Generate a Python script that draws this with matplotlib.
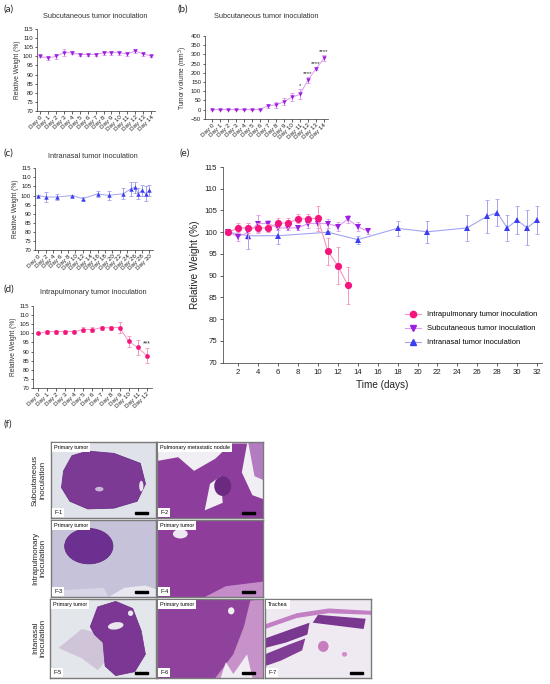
import matplotlib
matplotlib.use('Agg')
import matplotlib.pyplot as plt
from matplotlib.patches import Ellipse, Polygon, Rectangle
from matplotlib.lines import Line2D

plt.rcParams['font.family'] = ['Liberation Sans', 'DejaVu Sans']

# ---------------- data ----------------
sub_days = list(range(15))
sub_labels = ['Day %d' % d for d in sub_days]
sub_weight = [100, 99, 100, 102, 102, 101, 101, 101, 102, 102, 102, 101.3, 103, 101.3, 100.2]
sub_err = [0.5, 1.0, 1.5, 2.0, 0.9, 0.6, 0.6, 0.6, 1.0, 1.0, 1.0, 1.1, 0.9, 1.0, 0.5]

tumor_vol = [0, 0, 0, 0, 0, 0, 0, 20, 25, 42, 68, 82, 160, 222, 278]
tumor_err = [2, 2, 2, 2, 2, 2, 2, 12, 17, 20, 22, 27, 15, 8, 16]
tumor_stars = ['', '', '', '', '', '', '', '', '', '', '', '*', '****', '****', '****']
tumor_star_y = [0, 0, 0, 0, 0, 0, 0, 0, 0, 0, 0, 128, 197, 252, 318]

in_days_c = [0, 2, 5, 9, 12, 16, 19, 23, 25, 26, 27, 28, 29, 30]
in_days_e = [1, 3, 6, 11, 14, 18, 21, 25, 27, 28, 29, 30, 31, 32]
in_tick_days = list(range(0, 31, 2))
in_labels = ['Day %d' % d for d in in_tick_days]
in_weight = [100, 99.2, 99.2, 100, 98.3, 100.9, 100.1, 101, 103.7, 104.5, 101, 102.8, 101, 102.8]
in_err = [0.3, 3.0, 1.8, 0.3, 0.9, 1.7, 2.5, 3.0, 3.8, 3.1, 3.0, 3.2, 4.0, 3.2]

ip_days = list(range(13))
ip_labels = ['Day %d' % d for d in ip_days]
ip_weight = [100, 101, 101, 101, 101, 102.1, 102.1, 103.1, 103.1, 103.2, 95.6, 92.3, 87.8]
ip_err = [0.3, 1.1, 1.1, 1.1, 1.0, 1.2, 1.2, 1.0, 1.0, 2.9, 3.1, 4.2, 4.2]

e_sub_days = [d + 1 for d in sub_days]
e_ip_days = [d + 1 for d in ip_days]

weight_ticks = list(range(70, 116, 5))
vol_ticks = list(range(-50, 401, 50))
e_xticks = list(range(2, 33, 2))

# ---------------- colours ----------------
SUB_M, SUB_L = '#9b1fe0', '#dd9af0'
IP_M, IP_L = '#f5157e', '#f795c0'
IN_M, IN_L = '#3c3cf0', '#a3a3f2'

W, H = 550, 684
fig = plt.figure(figsize=(5.5, 6.84), dpi=100)
fig.patch.set_facecolor('white')


def ax_px(x0, y0, x1, y1):
    return fig.add_axes([x0 / W, 1 - y1 / H, (x1 - x0) / W, (y1 - y0) / H])


def style(ax, fs=4.3):
    for s in ['top', 'right']:
        ax.spines[s].set_visible(False)
    for s in ['left', 'bottom']:
        ax.spines[s].set_linewidth(0.5)
        ax.spines[s].set_color('#333333')
    ax.tick_params(length=1.8, width=0.5, labelsize=fs, pad=1, colors='#222222')


def series(ax, x, y, e, mc, lc, marker, ms, lw=0.7, z=3):
    ax.errorbar(x, y, yerr=e, fmt='none', ecolor=lc, elinewidth=0.7,
                capsize=1.4, capthick=0.6, zorder=z)
    ax.plot(x, y, '-', color=lc, lw=lw, zorder=z + 0.1)
    ax.plot(x, y, linestyle='none', marker=marker, color=mc, ms=ms,
            markeredgewidth=0, zorder=z + 0.2)


def panel_label(x, y, s, fs=7.0):
    fig.text(x / W, 1 - y / H, s, fontsize=fs, ha='left', va='center',
             family=['Lato', 'DejaVu Sans'], color='#222222')


def small_title(xc, y, s):
    fig.text(xc / W, 1 - y / H, s, fontsize=5.3, ha='center', va='center', color='#333333')


def cat_xaxis(ax, ticks, labels):
    ax.set_xticks(ticks)
    ax.set_xticklabels(labels, rotation=45, ha='right', rotation_mode='anchor', fontsize=4.5)


# ---------------- (a) ----------------
panel_label(4, 9, '(a)')
small_title(95, 16, 'Subcutaneous tumor inoculation')
axa = ax_px(37, 29, 155, 111)
style(axa)
series(axa, sub_days, sub_weight, sub_err, SUB_M, SUB_L, 'v', 3.2)
axa.set_xlim(-0.4, 14.5)
axa.set_ylim(70, 115)
axa.set_yticks(weight_ticks)
cat_xaxis(axa, sub_days, sub_labels)
axa.set_ylabel('Relative Weight (%)', fontsize=4.8, labelpad=1.5, color='#333333')

# ---------------- (b) ----------------
panel_label(178, 9, '(b)')
small_title(266, 16, 'Subcutaneous tumor inoculation')
axb = ax_px(205, 36, 328, 118.7)
style(axb)
series(axb, sub_days, tumor_vol, tumor_err, SUB_M, SUB_L, 'v', 3.2)
for d, s, yy in zip(sub_days, tumor_stars, tumor_star_y):
    if s:
        axb.text(d, yy, s, fontsize=4.4, ha='center', va='center', color='#222222')
axb.set_xlim(-0.84, 14.5)
axb.set_ylim(-50, 400)
axb.set_yticks(vol_ticks)
cat_xaxis(axb, sub_days, sub_labels)
axb.set_ylabel('Tumor volume (mm$^3$)', fontsize=4.8, labelpad=1.0, color='#333333')

# ---------------- (c) ----------------
panel_label(4, 153, '(c)')
small_title(93, 156, 'Intranasal tumor inoculation')
axc = ax_px(35, 168.3, 153, 250)
style(axc)
series(axc, in_days_c, in_weight, in_err, IN_M, IN_L, '^', 3.2)
axc.set_xlim(-0.9, 31)
axc.set_ylim(70, 115)
axc.set_yticks(weight_ticks)
cat_xaxis(axc, in_tick_days, in_labels)
axc.set_ylabel('Relative Weight (%)', fontsize=4.8, labelpad=1.5, color='#333333')

# ---------------- (d) ----------------
panel_label(4, 289, '(d)')
small_title(93, 293, 'Intrapulmonary tumor inoculation')
axd = ax_px(33.3, 306, 151.7, 388)
style(axd)
series(axd, ip_days, ip_weight, ip_err, IP_M, IP_L, 'o', 3.4)
axd.text(12, 94.2, '***', fontsize=4.8, ha='center', va='center', color='#222222')
axd.set_xlim(-0.55, 12.55)
axd.set_ylim(70, 115)
axd.set_yticks(weight_ticks)
cat_xaxis(axd, ip_days, ip_labels)
axd.set_ylabel('Relative Weight (%)', fontsize=4.8, labelpad=1.5, color='#333333')

# ---------------- (e) ----------------
panel_label(180, 153, '(e)')
axe = ax_px(223.3, 167, 542, 362.7)
style(axe, fs=5.6)
axe.tick_params(length=2.5, pad=2)
series(axe, in_days_e, in_weight, in_err, IN_M, IN_L, '^', 4.2, lw=0.8, z=3)
series(axe, e_sub_days, sub_weight, sub_err, SUB_M, SUB_L, 'v', 4.2, lw=0.8, z=4)
series(axe, e_ip_days, ip_weight, ip_err, IP_M, IP_L, 'o', 5.2, lw=0.8, z=5)
axe.set_xlim(0.5, 32.5)
axe.set_ylim(70, 115)
axe.set_yticks(weight_ticks)
axe.set_xticks(e_xticks)
axe.set_xlabel('Time (days)', fontsize=7.2, labelpad=3, color='#222222')
axe.set_ylabel('Relative Weight (%)', fontsize=7.2, labelpad=3, color='#222222')
handles = [
    Line2D([], [], color=IP_L, lw=0.8, marker='o', mfc=IP_M, mec=IP_M, ms=4.5),
    Line2D([], [], color=SUB_L, lw=0.8, marker='v', mfc=SUB_M, mec=SUB_M, ms=4.0),
    Line2D([], [], color=IN_L, lw=0.8, marker='^', mfc=IN_M, mec=IN_M, ms=4.0),
]
axe.legend(handles, ['Intrapulmonary tumor inoculation', 'Subcutaneous tumor inoculation',
                     'Intranasal tumor inoculation'],
           loc='lower right', bbox_to_anchor=(1.0, 0.06), frameon=False, fontsize=5.4,
           handlelength=2.2, labelspacing=0.9, handletextpad=0.8, borderaxespad=0.2)

# ---------------- (f) histology ----------------
panel_label(4, 424, '(f)')

for text, yc in [('Subcutaneous\ninoculation', 480), ('Intrapulmonary\ninoculation', 558),
                 ('Intanasal\ninoculation', 638)]:
    fig.text(39 / W, 1 - yc / H, text, rotation=90, fontsize=5.8, ha='center', va='center',
             linespacing=1.1, color='#222222')


def tile(x0, y0, x1, y1, bg, title, tag):
    ax = ax_px(x0, y0, x1, y1)
    ax.set_xlim(0, 1)
    ax.set_ylim(0, 1)
    ax.set_xticks([])
    ax.set_yticks([])
    ax.set_facecolor(bg)
    for s in ax.spines.values():
        s.set_color('#7a7a7a')
        s.set_linewidth(1.0)
    ax._tile_title = title
    ax._tile_tag = tag
    return ax


def finish(ax):
    ax.text(0.03, 0.965, ax._tile_title, fontsize=3.9, ha='left', va='top', zorder=20,
            bbox=dict(boxstyle='square,pad=0.35', fc='white', ec='none'))
    ax.text(0.03, 0.04, ax._tile_tag, fontsize=3.9, ha='left', va='bottom', zorder=20,
            bbox=dict(boxstyle='square,pad=0.35', fc='white', ec='none'))
    ax.add_patch(Rectangle((0.8, 0.055), 0.12, 0.018, color='black', zorder=21))


# F-1
a = tile(51, 442, 156, 518, '#dfe2e9', 'Primary tumor', 'F-1')
a.add_patch(Polygon([[0.12, 0.62], [0.2, 0.82], [0.35, 0.88], [0.6, 0.85], [0.85, 0.72],
                     [0.9, 0.45], [0.82, 0.22], [0.6, 0.13], [0.35, 0.12], [0.18, 0.22],
                     [0.1, 0.4]], closed=True, fc='#7c3a95', ec='#6a2e85', lw=0.6))
a.add_patch(Ellipse((0.46, 0.38), 0.08, 0.06, fc='#c9b7d6', ec='none'))
a.add_patch(Ellipse((0.86, 0.42), 0.04, 0.14, fc='#e8e4ee', ec='none'))
finish(a)

# F-2
a = tile(157, 442, 263, 518, '#f1eff4', 'Pulmonary metastatic nodule', 'F-2')
a.add_patch(Polygon([[0.0, 0.0], [0.0, 0.75], [0.2, 0.8], [0.35, 0.62], [0.55, 0.78],
                     [0.7, 0.98], [0.85, 0.98], [0.8, 0.6], [0.9, 0.3], [1.0, 0.25],
                     [1.0, 0.0]], closed=True, fc='#8d3d9c', ec='none'))
a.add_patch(Polygon([[0.45, 0.1], [0.5, 0.45], [0.6, 0.55], [0.62, 0.2]], closed=True,
                    fc='#f1eff4', ec='none'))
a.add_patch(Ellipse((0.62, 0.42), 0.16, 0.26, fc='#6b2a80', ec='none'))
a.add_patch(Polygon([[0.86, 1.0], [0.92, 0.55], [1.0, 0.5], [1.0, 1.0]], closed=True,
                    fc='#b37bc0', ec='none'))
finish(a)

# F-3
a = tile(51, 520, 156, 597, '#c6c2da', 'Primary tumor', 'F-3')
a.add_patch(Polygon([[0.55, 0.0], [0.7, 0.12], [0.9, 0.15], [1.0, 0.1], [1.0, 0.0]],
                    closed=True, fc='#e9e7ef', ec='none'))
a.add_patch(Ellipse((0.36, 0.66), 0.46, 0.46, fc='#6c3090', ec='#5a2478', lw=0.5))
a.add_patch(Polygon([[0.0, 0.0], [0.0, 0.08], [0.5, 0.12], [0.55, 0.0]], closed=True,
                    fc='#d9d5e6', ec='none'))
finish(a)

# F-4
a = tile(157, 520, 263, 597, '#8e3e9a', 'Primary tumor', 'F-4')
a.add_patch(Ellipse((0.22, 0.82), 0.14, 0.12, fc='#eee8f2', ec='none'))
a.add_patch(Polygon([[0.45, 0.0], [0.65, 0.14], [1.0, 0.2], [1.0, 0.0]], closed=True,
                    fc='#c48cc8', ec='none'))
finish(a)

# F-5
a = tile(50, 599, 156, 678, '#e3e6ea', 'Primary tumor', 'F-5')
a.add_patch(Polygon([[0.08, 0.38], [0.3, 0.62], [0.5, 0.55], [0.55, 0.25], [0.45, 0.1],
                     [0.3, 0.25]], closed=True, fc='#cfc4d8', ec='none'))
a.add_patch(Polygon([[0.38, 0.65], [0.45, 0.9], [0.62, 0.97], [0.78, 0.88], [0.86, 0.6],
                     [0.9, 0.3], [0.8, 0.08], [0.62, 0.03], [0.52, 0.15], [0.5, 0.45],
                     [0.42, 0.55]], closed=True, fc='#7b3793', ec='#6b2c85', lw=0.5))
a.add_patch(Ellipse((0.62, 0.66), 0.15, 0.09, angle=15, fc='#e9e6ee', ec='none'))
a.add_patch(Ellipse((0.76, 0.82), 0.05, 0.07, fc='#e9e6ee', ec='none'))
finish(a)

# F-6
a = tile(157, 599, 263, 678, '#8f429c', 'Primary tumor', 'F-6')
a.add_patch(Polygon([[0.55, 0.0], [0.72, 0.3], [0.82, 0.65], [0.88, 0.98], [1.0, 1.0],
                     [1.0, 0.0]], closed=True, fc='#c792c9', ec='none'))
a.add_patch(Polygon([[0.6, 0.0], [0.65, 0.2], [0.72, 0.05], [0.85, 0.3], [0.9, 0.0]],
                    closed=True, fc='#f1eef3', ec='none'))
a.add_patch(Ellipse((0.7, 0.85), 0.06, 0.09, fc='#f1eef3', ec='none'))
finish(a)

# F-7
a = tile(265, 599, 371, 678, '#efeaf1', 'Trachea', 'F-7')
a.add_patch(Polygon([[0.0, 0.68], [0.3, 0.82], [0.6, 0.88], [1.0, 0.85], [1.0, 0.8],
                     [0.6, 0.82], [0.3, 0.76], [0.0, 0.62]], closed=True, fc='#c27fc4', ec='none'))
a.add_patch(Polygon([[0.45, 0.7], [0.5, 0.8], [0.95, 0.75], [0.93, 0.62]], closed=True,
                    fc='#7a3790', ec='none'))
a.add_patch(Polygon([[0.0, 0.5], [0.25, 0.62], [0.42, 0.7], [0.4, 0.55], [0.2, 0.45],
                     [0.0, 0.38]], closed=True, fc='#7a3790', ec='none'))
a.add_patch(Polygon([[0.0, 0.3], [0.22, 0.42], [0.38, 0.5], [0.35, 0.35], [0.15, 0.22],
                     [0.0, 0.15]], closed=True, fc='#813c96', ec='none'))
a.add_patch(Ellipse((0.55, 0.4), 0.1, 0.14, fc='#c77cc0', ec='none'))
a.add_patch(Ellipse((0.75, 0.3), 0.05, 0.06, fc='#d58cc9', ec='none'))
finish(a)

fig.savefig('out.png', dpi=100, facecolor='white')
